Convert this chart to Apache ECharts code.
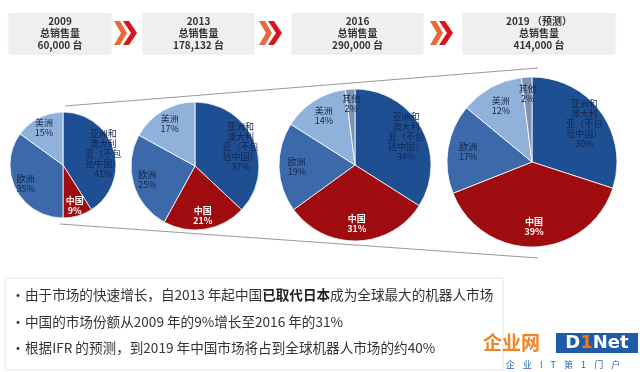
<!DOCTYPE html>
<html><head><meta charset="utf-8">
<script src="https://cdn.jsdelivr.net/npm/echarts@6/dist/echarts.min.js"></script>
<style>html,body{margin:0;padding:0;background:#fff}#c{width:640px;height:372px}</style>
</head><body><div id="c"></div>
<script>
// ---- data ----
const regions = ['亚洲和澳大利亚（不包括中国）', '中国', '欧洲', '美洲', '其他'];
const regionLabels = ['亚洲和\n澳大利\n亚（不包\n括中国）', '中国', '欧洲', '美洲', '其他'];
const years = ['2009', '2013', '2016', '2019 （预测）'];
const totalLabel = '总销售量';
const totals = ['60,000 台', '178,132 台', '290,000 台', '414,000 台'];
const share2009 = [41, 9, 35, 15];
const share2013 = [37, 21, 25, 17];
const share2016 = [34, 31, 19, 14, 2];
const share2019 = [30, 39, 17, 12, 2];
const shares = [share2009, share2013, share2016, share2019];
const notes = [
  ['由于市场的快速增长，自2013 年起中国', '已取代日本', '成为全球最大的机器人市场'],
  ['中国的市场份额从2009 年的9%增长至2016 年的31%'],
  ['根据IFR 的预测，到2019 年中国市场将占到全球机器人市场的约40%']
];

// ---- layout / style ----
const colors = ['#1e4f93', '#9e0c10', '#3b69a9', '#8fb1da', '#7d93b5'];
const pies = [
  {cx: 63, cy: 165, r: 53},
  {cx: 195, cy: 166, r: 64},
  {cx: 355, cy: 165, r: 76},
  {cx: 532, cy: 162, r: 85}
];
const boxes = [[9, 111], [143, 254], [292, 423], [463, 615]];
const arrows = [113, 258, 429];
const FONT = '"Noto Sans CJK SC", "Noto Sans", sans-serif';

const series = pies.map((p, i) => ({
  type: 'pie',
  center: [p.cx, p.cy],
  radius: [0, p.r],
  startAngle: 90,
  clockwise: true,
  silent: true,
  animation: false,
  itemStyle: {borderColor: '#fff', borderWidth: 0.8},
  label: {
    show: true,
    position: 'inside',
    fontFamily: FONT,
    fontSize: 9,
    lineHeight: 10,
    color: '#14264d',
    formatter: (d) => regionLabels[d.dataIndex] + '\n' + d.value + '%'
  },
  labelLayout: (prm) => {
    const lr = prm.labelRect;
    const lx = lr.x + lr.width / 2, ly = lr.y + lr.height / 2;
    const k = prm.dataIndex === 4 ? 0.5 : 0.42;
    return {dx: (lx - p.cx) * k, dy: (ly - p.cy) * k};
  },
  data: shares[i].map((v, j) => ({
    name: regions[j], value: v,
    itemStyle: {color: colors[j]},
    label: j === 1 ? {color: '#fff', fontWeight: 'bold'} : undefined
  }))
}));

const graphics = [];
// connecting lines
graphics.push({type: 'line', shape: {x1: 65, y1: 106, x2: 538, y2: 68}, style: {stroke: '#9a9a9a', lineWidth: 1}, z: 0});
graphics.push({type: 'line', shape: {x1: 60, y1: 224, x2: 538, y2: 258}, style: {stroke: '#9a9a9a', lineWidth: 1}, z: 0});
// header boxes
boxes.forEach((b, i) => {
  graphics.push({type: 'rect', shape: {x: b[0], y: 13, width: b[1] - b[0], height: 40},
    style: {fill: '#efefef', shadowBlur: 2, shadowColor: 'rgba(0,0,0,0.12)', shadowOffsetY: 1}});
  const cx = (b[0] + b[1]) / 2;
  [years[i], totalLabel, totals[i]].forEach((t, k) => {
    graphics.push({type: 'text', x: cx, y: 21 + k * 12,
      style: {text: t, fontFamily: FONT, fontSize: 10, fontWeight: 'bold', fill: '#333',
        align: 'center', verticalAlign: 'middle'}});
  });
});
// chevron arrows
function chevron(a, t, d, y0, y1, fill) {
  const ym = (y0 + y1) / 2;
  return {type: 'polygon', shape: {points: [[a, y0], [a + t, y0], [a + t + d, ym], [a + t, y1], [a, y1], [a + d, ym]]}, style: {fill}};
}
arrows.forEach(a => {
  graphics.push(chevron(a + 1, 6, 7, 21, 45, '#e8693c'));
  graphics.push(chevron(a + 10, 6, 8, 21, 45, '#d8151b'));
});
// bottom text box
graphics.push({type: 'rect', shape: {x: 5, y: 278, width: 498, height: 92},
  style: {fill: '#fff', stroke: '#e3e3e3', lineWidth: 1}});
const lineY = [295, 322, 348];
notes.forEach((parts, i) => {
  graphics.push({type: 'text', x: 11, y: lineY[i], style: {text: '·', fontFamily: FONT, fontSize: 14, fill: '#333', verticalAlign: 'middle'}});
  let rich = '';
  parts.forEach((s, k) => { rich += (k === 1 ? '{b|' + s + '}' : '{n|' + s + '}'); });
  graphics.push({type: 'text', x: 25, y: lineY[i],
    style: {text: rich, verticalAlign: 'middle',
      rich: {n: {fontFamily: FONT, fontSize: 13.6, fill: '#333'}, b: {fontFamily: FONT, fontSize: 13.6, fontWeight: 'bold', fill: '#222'}}}});
});
// watermark
graphics.push({type: 'text', x: 483, y: 343, z: 10,
  style: {text: '企业网', fontFamily: FONT, fontSize: 19, fontWeight: 'bold', fill: 'rgba(240,120,20,0.92)', verticalAlign: 'middle'}});
graphics.push({type: 'rect', z: 10, shape: {x: 556, y: 333, width: 82, height: 20}, style: {fill: '#1f5ca8'}});
graphics.push({type: 'text', x: 597, y: 343, z: 11,
  style: {text: '{w|D}{o|1}{w|Net}', align: 'center', verticalAlign: 'middle',
    rich: {w: {fontFamily: '"DejaVu Sans", sans-serif', fontSize: 18, fontWeight: 'bold', fill: '#fff'},
      o: {fontFamily: '"DejaVu Sans", sans-serif', fontSize: 18, fontWeight: 'bold', fill: '#f07814'}}}});
graphics.push({type: 'text', x: 563, y: 365, z: 10,
  style: {text: '企    业    I    T    第    1    门    户', fontFamily: FONT, fontSize: 9, fill: '#2a64b0', align: 'center', verticalAlign: 'middle'}});

const chart = echarts.init(document.getElementById('c'), null, {renderer: 'canvas'});
chart.setOption({
  backgroundColor: '#fff',
  animation: false,
  series: series,
  graphic: graphics
});
</script></body></html>
